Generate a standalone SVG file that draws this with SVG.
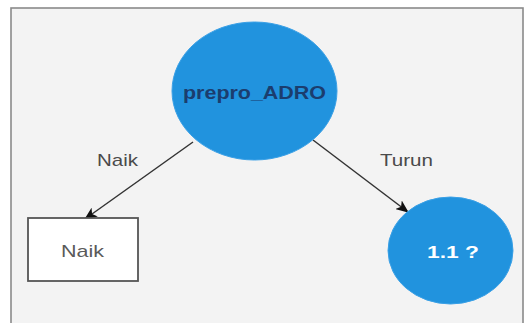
<svg xmlns="http://www.w3.org/2000/svg" width="525" height="323" viewBox="0 0 525 323">
<style>
.lbl{font-family:"Liberation Sans",Arial,sans-serif;font-size:17px;fill:#4a4a4a;text-anchor:middle}
.node{fill:#2193de;stroke:#3aa0e6;stroke-width:1}
.edge{stroke:#333;stroke-width:1.5;fill:none}
</style>
<defs>
<marker id="arr" viewBox="0 0 12 10" refX="11" refY="5" markerWidth="13" markerHeight="11" markerUnits="userSpaceOnUse" orient="auto">
<path d="M0,0 L12,5 L0,10 L3,5 Z" fill="#111"/>
</marker>
</defs>
<rect x="0" y="0" width="525" height="323" fill="#ffffff"/>
<rect x="11" y="8" width="512" height="330" fill="#f3f3f3" stroke="#8a8a8a" stroke-width="1.6"/>
<g id="connectors">
<line class="edge" x1="193" y1="142" x2="85" y2="219" marker-end="url(#arr)"/>
<line class="edge" x1="313" y1="140" x2="408" y2="212" marker-end="url(#arr)"/>
<text class="lbl" x="117.5" y="166" textLength="41" lengthAdjust="spacingAndGlyphs">Naik</text>
<text class="lbl" x="406.5" y="166" textLength="53" lengthAdjust="spacingAndGlyphs">Turun</text>
</g>
<g id="root">
<ellipse class="node" cx="254.5" cy="91" rx="82.5" ry="69"/>
<text x="254.5" y="99" font-family="'Liberation Sans',Arial,sans-serif" font-size="18" font-weight="bold" fill="#1b3d6e" text-anchor="middle" textLength="143" lengthAdjust="spacingAndGlyphs">prepro_ADRO</text>
</g>
<g id="leaf-naik">
<rect x="28" y="218" width="110" height="63" fill="#ffffff" stroke="#555" stroke-width="1.8"/>
<text x="82.5" y="257" font-family="'Liberation Sans',Arial,sans-serif" font-size="17" fill="#5a5a5a" text-anchor="middle" textLength="43" lengthAdjust="spacingAndGlyphs">Naik</text>
</g>
<g id="node-11">
<ellipse class="node" cx="450.5" cy="250.5" rx="62.5" ry="53.5"/>
<text x="453" y="258" font-family="'Liberation Sans',Arial,sans-serif" font-size="17" font-weight="bold" fill="#ffffff" text-anchor="middle" textLength="52" lengthAdjust="spacingAndGlyphs">1.1 ?</text>
</g>
</svg>
